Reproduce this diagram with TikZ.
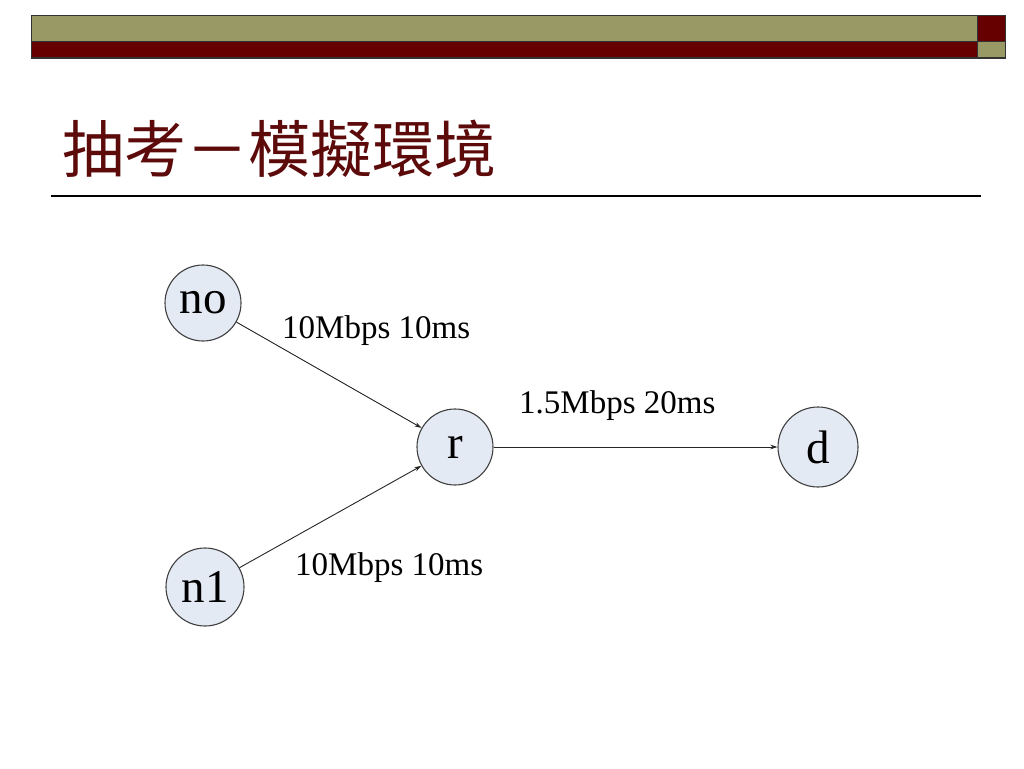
\documentclass[tikz,border=0pt]{standalone}
\usepackage{fontspec}
\setmainfont{Liberation Serif}
\newfontfamily\cjk{Noto Sans CJK TC}
\usetikzlibrary{arrows.meta}
\definecolor{olivebar}{HTML}{999966}
\definecolor{darkred}{HTML}{660000}
\definecolor{titlered}{HTML}{5C0A0A}
\definecolor{nodefill}{HTML}{E4EAF4}
\tikzset{
  netnode/.style={circle, draw=black!75, line width=1.1pt, fill=nodefill, minimum size=76pt, inner sep=0pt, font=\fontsize{47}{47}\selectfont},
  link/.style={draw=black!85, line width=0.9pt, -{Stealth[length=7pt,width=4.5pt]}},
  lbl/.style={font=\fontsize{33}{33}\selectfont, anchor=west, inner sep=0pt},
  bar/.style={draw=black!80, line width=1pt}
}
\begin{document}
\begin{tikzpicture}[x=1pt,y=-1pt]
\useasboundingbox (0,0) rectangle (1024,768);
\fill[white] (0,0) rectangle (1024,768);
% top bars
\filldraw[bar, fill=olivebar] (31,16) rectangle (977,42);
\filldraw[bar, fill=darkred] (31,42) rectangle (977,58);
\filldraw[bar, fill=darkred] (977,16) rectangle (1005,42);
\filldraw[bar, fill=olivebar] (977,42) rectangle (1005,58);
% title
\node[anchor=west, inner sep=0pt, text=titlered, font=\cjk\fontsize{62}{62}\selectfont] (title) at (62,149) {抽考－模擬環境};
\draw[line width=1.3pt] (51,196) -- (981,196);
% nodes
\node[netnode] (no) at (203,303) {no};
\node[netnode] (r) at (455,447) {r};
\node[netnode, minimum size=80pt] (d) at (818,447) {d};
\node[netnode, minimum size=78pt] (n1) at (205,587) {n1};
% links
\draw[link] (no) -- (r);
\draw[link] (n1) -- (r);
\draw[link] (r) -- (d);
% labels
\node[lbl] (l1) at (282,331) {10Mbps 10ms};
\node[lbl] (l2) at (295,568) {10Mbps 10ms};
\node[lbl] (l3) at (519,406) {1.5Mbps 20ms};
\end{tikzpicture}
\end{document}
